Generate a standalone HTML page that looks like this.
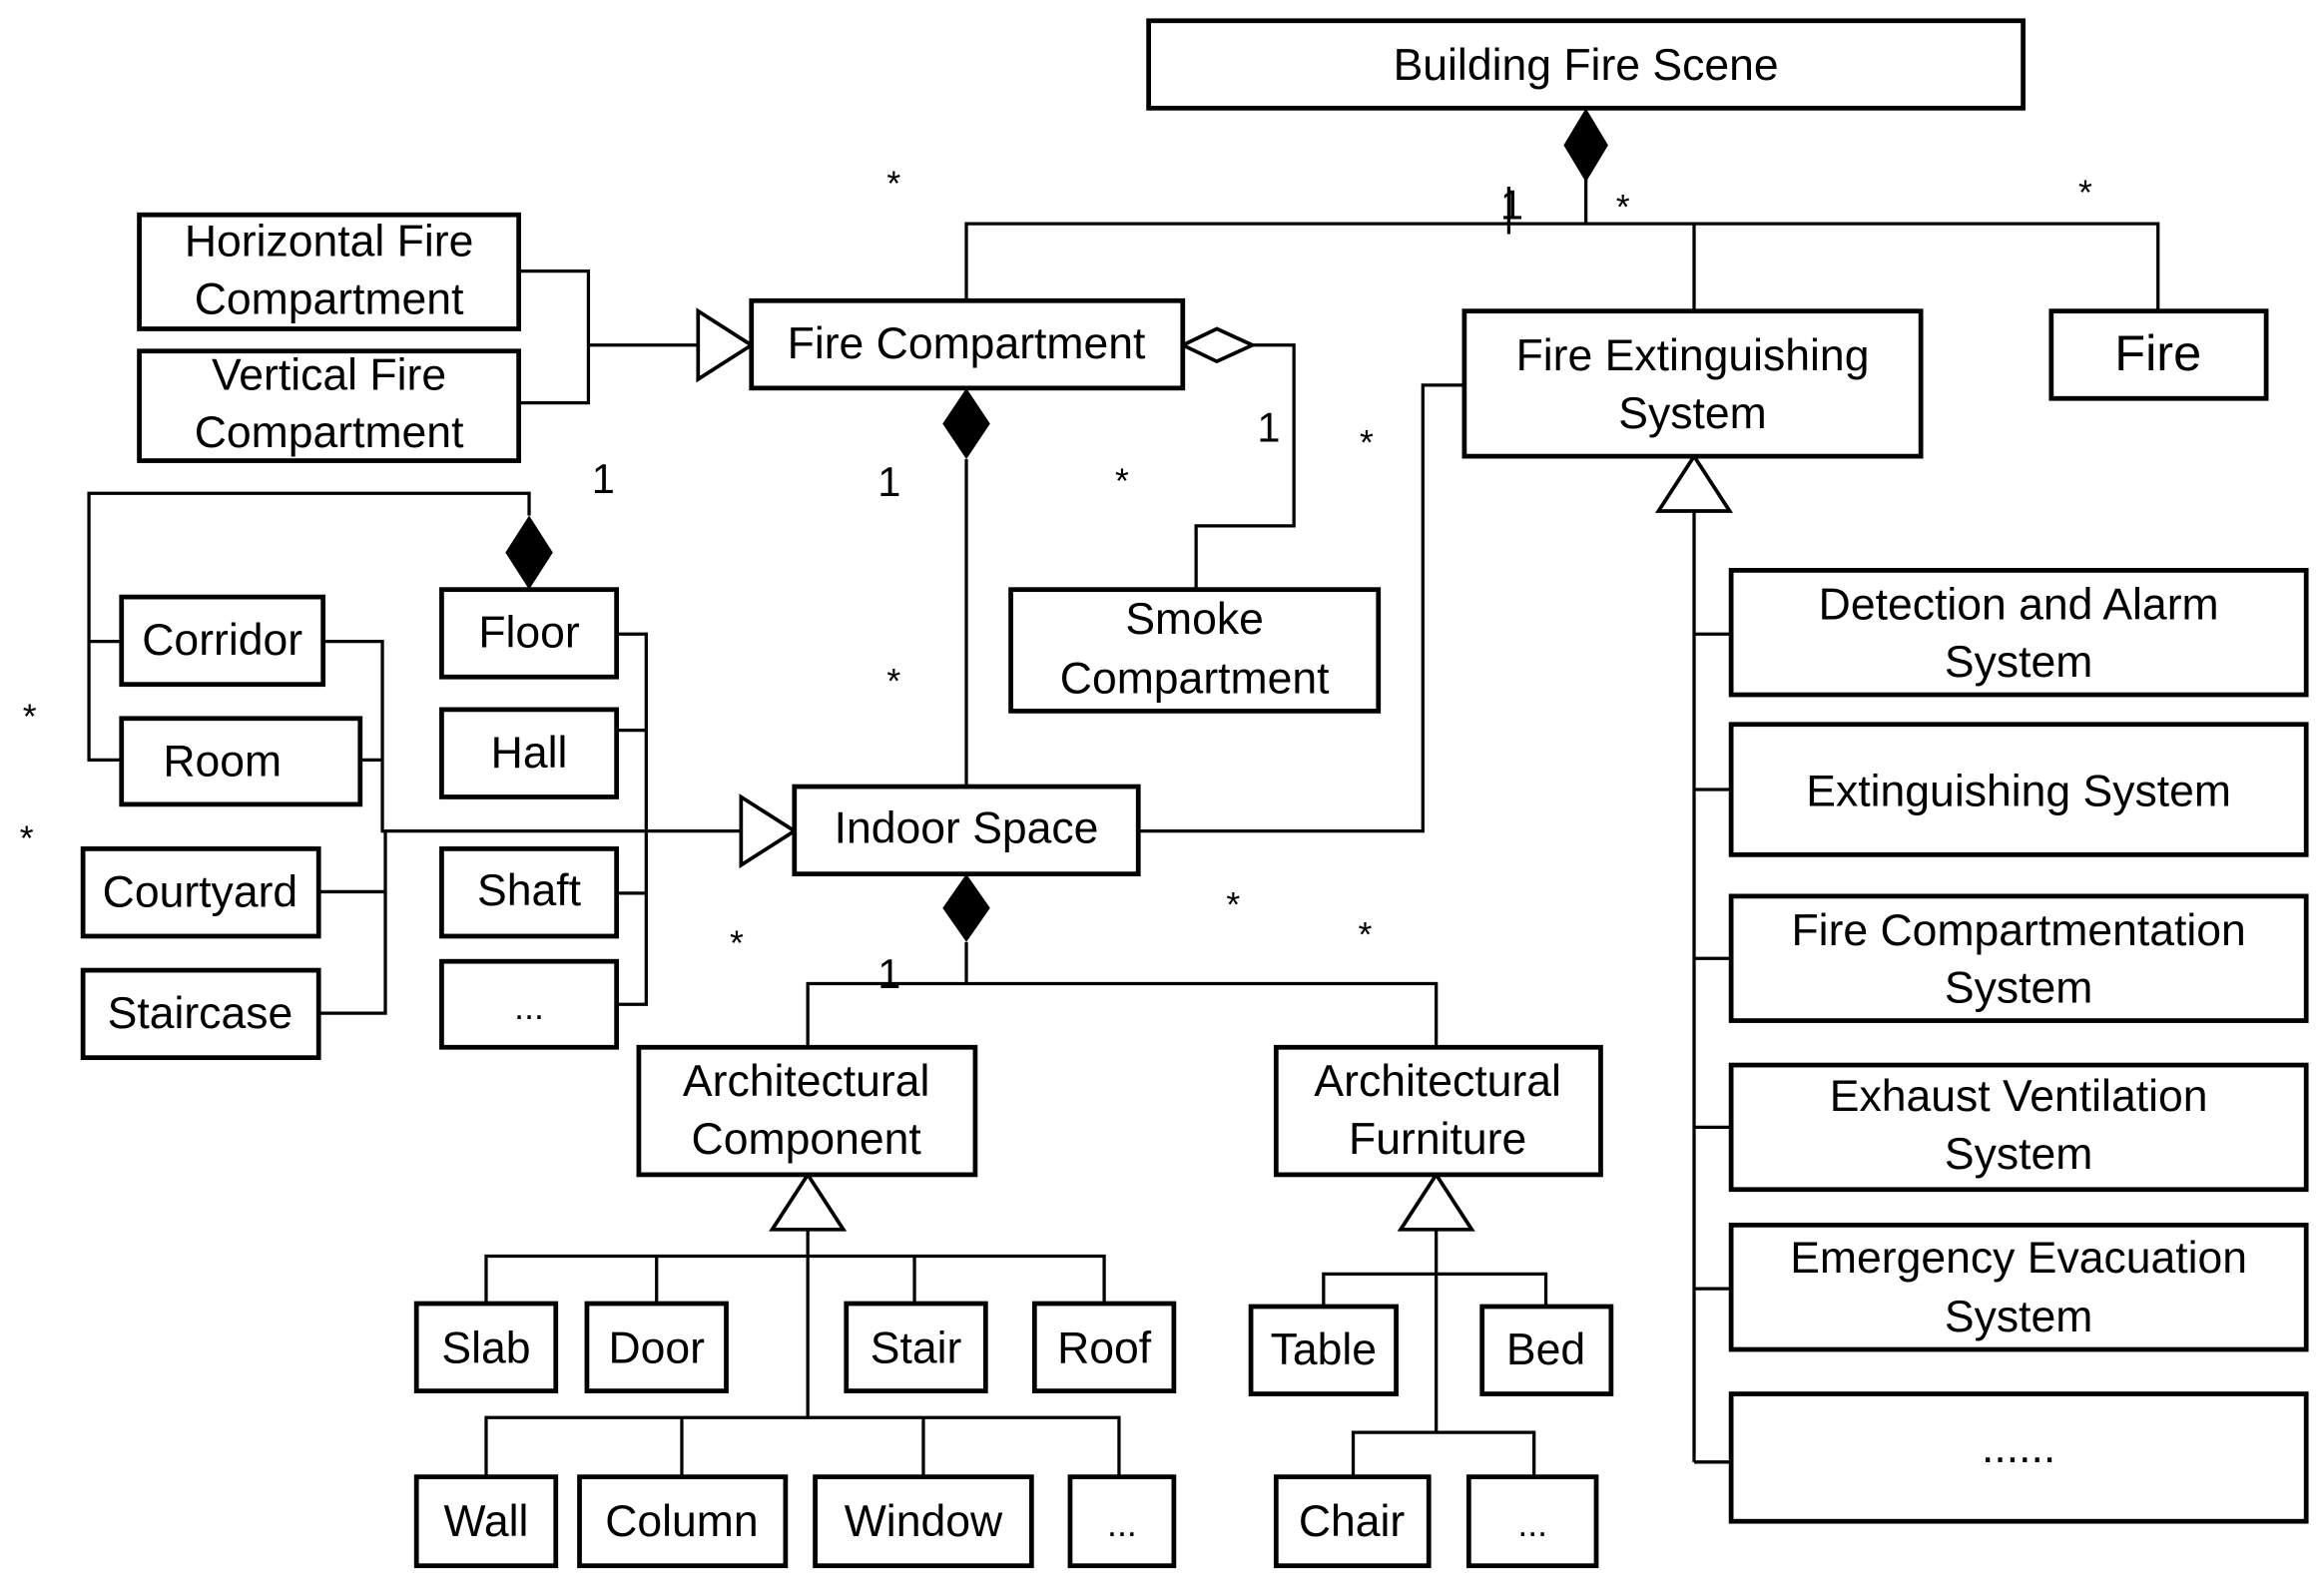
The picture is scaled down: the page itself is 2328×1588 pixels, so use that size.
<!DOCTYPE html>
<html><head><meta charset="utf-8"><style>
html,body{margin:0;padding:0;background:#fff;}
svg{display:block;}
text{font-family:"Liberation Sans",Arial,sans-serif;font-size:30px;fill:#000;text-anchor:middle;}
.b{fill:#fff;stroke:#000;stroke-width:3.2;}
.l{fill:none;stroke:#000;stroke-width:2.2;}
.s{font-size:24px;}
</style></head><body>
<svg width="2328" height="1588" viewBox="0 0 1568 1070" preserveAspectRatio="none" xmlns="http://www.w3.org/2000/svg">
<!-- connectors -->
<g class="l">
<polyline points="1070,120 1070,151"/>
<polyline points="652,203 652,151 1456,151 1456,210"/>
<polyline points="1143,151 1143,210"/>
<polyline points="350,183 397,183 397,272 350,272"/>
<polyline points="397,233 471,233"/>
<polyline points="845,233 873,233 873,355 807,355 807,398"/>
<polyline points="652,310 652,531"/>
<polyline points="768,561 960,561 960,260 988,260"/>
<polyline points="1143,345 1143,987"/>
<polyline points="1143,428 1168,428"/><polyline points="1143,533 1168,533"/>
<polyline points="1143,647 1168,647"/><polyline points="1143,761 1168,761"/>
<polyline points="1143,870 1168,870"/><polyline points="1143,987 1168,987"/>
<polyline points="357,348 357,333 60,333 60,513 82,513"/>
<polyline points="60,433 82,433"/>
<polyline points="218,433 258,433 258,561 500,561"/>
<polyline points="243,513 258,513"/>
<polyline points="215,602 260,602"/><polyline points="215,684 260,684 260,561"/>
<polyline points="416,428 436,428 436,678 416,678"/>
<polyline points="416,493 436,493"/><polyline points="416,603 436,603"/>
<polyline points="652,636 652,664"/>
<polyline points="545,707 545,664 969,664 969,707"/>
<polyline points="545,830 545,957"/>
<polyline points="328,880 328,848 745,848 745,880"/>
<polyline points="443,848 443,880"/><polyline points="617,848 617,880"/>
<polyline points="328,997 328,957 755,957 755,997"/>
<polyline points="460,957 460,997"/><polyline points="623,957 623,997"/>
<polyline points="969,830 969,967"/>
<polyline points="893,882 893,860 1043,860 1043,882"/>
<polyline points="913,997 913,967 1035,967 1035,997"/>
<polyline points="1018,126 1018,158"/>
</g>
<!-- markers -->
<polygon points="1070,73 1085,98 1070,123 1055,98" fill="#000"/>
<polygon points="652,262 668,286 652,310 636,286" fill="#000"/>
<polygon points="357,348 373,373 357,398 341,373" fill="#000"/>
<polygon points="652,590 668,613 652,636 636,613" fill="#000"/>
<polygon points="798,233 821,222 845,233 821,244" fill="#fff" stroke="#000" stroke-width="2.5"/>
<polygon points="507,233 471,210 471,256" fill="#fff" stroke="#000" stroke-width="2.5"/>
<polygon points="536,561 500,538 500,584" fill="#fff" stroke="#000" stroke-width="2.5"/>
<polygon points="1143,308 1119,345 1167,345" fill="#fff" stroke="#000" stroke-width="2.5"/>
<polygon points="545,793 521,830 569,830" fill="#fff" stroke="#000" stroke-width="2.5"/>
<polygon points="969,793 945,830 993,830" fill="#fff" stroke="#000" stroke-width="2.5"/>
<!-- boxes -->
<rect class="b" x="775" y="14" width="590" height="59"/>
<text x="1070" y="54">Building Fire Scene</text>
<rect class="b" x="94" y="145" width="256" height="77"/>
<text x="222" y="173">Horizontal Fire</text><text x="222" y="212">Compartment</text>
<rect class="b" x="94" y="237" width="256" height="74"/>
<text x="222" y="263">Vertical Fire</text><text x="222" y="302">Compartment</text>
<rect class="b" x="507" y="203" width="291" height="59"/>
<text x="652" y="242">Fire Compartment</text>
<rect class="b" x="682" y="398" width="248" height="82"/>
<text x="806" y="428">Smoke</text><text x="806" y="468">Compartment</text>
<rect class="b" x="988" y="210" width="308" height="98"/>
<text x="1142" y="250">Fire Extinguishing</text><text x="1142" y="289">System</text>
<rect class="b" x="1384" y="210" width="145" height="59"/>
<text x="1456" y="250" style="font-size:34px">Fire</text>
<rect class="b" x="1168" y="385" width="388" height="84"/>
<text x="1362" y="418">Detection and Alarm</text><text x="1362" y="457">System</text>
<rect class="b" x="1168" y="489" width="388" height="88"/>
<text x="1362" y="544">Extinguishing System</text>
<rect class="b" x="1168" y="605" width="388" height="84"/>
<text x="1362" y="638">Fire Compartmentation</text><text x="1362" y="677">System</text>
<rect class="b" x="1168" y="719" width="388" height="84"/>
<text x="1362" y="750">Exhaust Ventilation</text><text x="1362" y="789">System</text>
<rect class="b" x="1168" y="827" width="388" height="84"/>
<text x="1362" y="859">Emergency Evacuation</text><text x="1362" y="899">System</text>
<rect class="b" x="1168" y="941" width="388" height="86"/>
<text x="1362" y="987">......</text>
<rect class="b" x="82" y="403" width="136" height="59"/><text x="150" y="442">Corridor</text>
<rect class="b" x="82" y="485" width="161" height="58"/><text x="150" y="524">Room</text>
<rect class="b" x="56" y="573" width="159" height="59"/><text x="135" y="612">Courtyard</text>
<rect class="b" x="56" y="655" width="159" height="59"/><text x="135" y="694">Staircase</text>
<rect class="b" x="298" y="398" width="118" height="59"/><text x="357" y="437">Floor</text>
<rect class="b" x="298" y="479" width="118" height="59"/><text x="357" y="518">Hall</text>
<rect class="b" x="298" y="573" width="118" height="59"/><text x="357" y="611">Shaft</text>
<rect class="b" x="298" y="649" width="118" height="58"/><text x="357" y="688" class="s">...</text>
<rect class="b" x="536" y="531" width="232" height="59"/><text x="652" y="569">Indoor Space</text>
<rect class="b" x="431" y="707" width="227" height="86"/>
<text x="544" y="740">Architectural</text><text x="544" y="779">Component</text>
<rect class="b" x="861" y="707" width="219" height="86"/>
<text x="970" y="740">Architectural</text><text x="970" y="779">Furniture</text>
<rect class="b" x="281" y="880" width="94" height="59"/><text x="328" y="920">Slab</text>
<rect class="b" x="396" y="880" width="94" height="59"/><text x="443" y="920">Door</text>
<rect class="b" x="571" y="880" width="94" height="59"/><text x="618" y="920">Stair</text>
<rect class="b" x="698" y="880" width="94" height="59"/><text x="745" y="920">Roof</text>
<rect class="b" x="281" y="997" width="94" height="60"/><text x="328" y="1037">Wall</text>
<rect class="b" x="391" y="997" width="139" height="60"/><text x="460" y="1037">Column</text>
<rect class="b" x="550" y="997" width="146" height="60"/><text x="623" y="1037">Window</text>
<rect class="b" x="722" y="997" width="70" height="60"/><text x="757" y="1037" class="s">...</text>
<rect class="b" x="844" y="882" width="98" height="59"/><text x="893" y="921">Table</text>
<rect class="b" x="1000" y="882" width="87" height="59"/><text x="1043" y="921">Bed</text>
<rect class="b" x="861" y="997" width="103" height="60"/><text x="912" y="1037">Chair</text>
<rect class="b" x="991" y="997" width="86" height="60"/><text x="1034" y="1037" class="s">...</text>
<!-- multiplicities -->
<g class="s">
<text x="603" y="132" class="s">*</text>
<text x="1020" y="148" class="s" style="font-size:28px">1</text>
<text x="1095" y="148" class="s">*</text>
<text x="1407" y="138" class="s">*</text>
<text x="856" y="298" class="s" style="font-size:28px">1</text>
<text x="757" y="333" class="s">*</text>
<text x="922" y="307" class="s">*</text>
<text x="600" y="335" class="s" style="font-size:28px">1</text>
<text x="603" y="468" class="s">*</text>
<text x="407" y="333" class="s" style="font-size:28px">1</text>
<text x="20" y="492" class="s">*</text>
<text x="18" y="574" class="s">*</text>
<text x="600" y="667" class="s" style="font-size:28px">1</text>
<text x="497" y="645" class="s">*</text>
<text x="832" y="619" class="s">*</text>
<text x="921" y="639" class="s">*</text>
</g>
</svg>
</body></html>
